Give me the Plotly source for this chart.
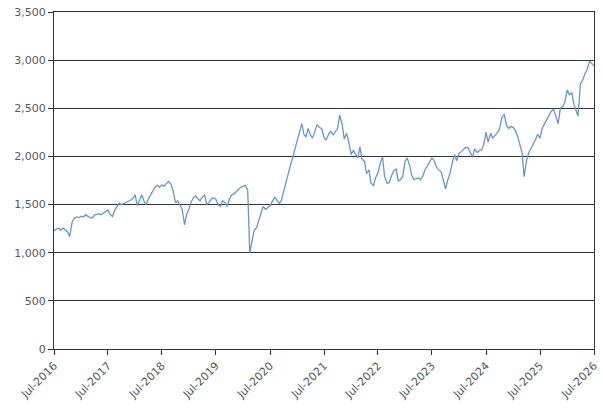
import pandas as pd
import plotly.graph_objects as go

# semi-monthly readings (1st and 15th of each month), Jul-2016 .. Jul-2026
dates = pd.date_range("2016-07-01", "2026-07-01", freq="SMS")

values = [
    # Jul-2016 .. Jun-2017
    1225, 1245, 1255, 1235, 1255, 1240, 1215, 1170, 1320, 1360, 1372, 1365,
    1380, 1372, 1395, 1378, 1370, 1358, 1390, 1400, 1405, 1395, 1415, 1425,
    # Jul-2017 .. Jun-2018
    1445, 1400, 1375, 1440, 1485, 1515, 1500, 1510, 1520, 1530, 1545, 1560,
    1600, 1490, 1560, 1600, 1540, 1500, 1560, 1600, 1655, 1680, 1700, 1680,
    # Jul-2018 .. Jun-2019
    1705, 1690, 1720, 1740, 1710, 1640, 1520, 1540, 1490, 1450, 1290, 1400,
    1460, 1530, 1575, 1590, 1560, 1540, 1580, 1600, 1500, 1520, 1560, 1570,
    # Jul-2019 .. Jun-2020
    1555, 1500, 1480, 1540, 1520, 1480, 1560, 1600, 1610, 1630, 1660, 1680,
    1690, 1700, 1650, 1000, 1120, 1230, 1260, 1330, 1400, 1480, 1450, 1470,
    # Jul-2020 .. Jun-2021
    1490, 1530, 1575, 1550, 1510, 1540, 1640, 1740, 1820, 1900, 1990, 2060,
    2140, 2230, 2340, 2230, 2200, 2290, 2220, 2190, 2270, 2330, 2300, 2290,
    # Jul-2021 .. Jun-2022
    2200, 2170, 2230, 2260, 2225, 2250, 2290, 2430, 2330, 2180, 2240, 2150,
    2020, 2060, 2020, 1985, 2100, 1970, 1950, 1820, 1860, 1720, 1700, 1780,
    # Jul-2022 .. Jun-2023
    1830, 1920, 1995, 1790, 1720, 1730, 1800, 1850, 1870, 1745, 1760, 1790,
    1950, 1985, 1900, 1800, 1760, 1770, 1775, 1760, 1800, 1860, 1910, 1950,
    # Jul-2023 .. Jun-2024
    1985, 1960, 1890, 1860, 1840, 1760, 1660, 1750, 1830, 1930, 2020, 1955,
    2030, 2050, 2070, 2095, 2090, 2045, 1990, 2080, 2040, 2060, 2070, 2120,
    # Jul-2024 .. Jun-2025
    2250, 2150, 2240, 2190, 2220, 2245, 2290, 2400, 2440, 2330, 2290, 2310,
    2300, 2270, 2200, 2120, 2040, 1790, 1960, 2035, 2080, 2120, 2175, 2230,
    # Jul-2025 .. Jul-2026
    2190, 2290, 2340, 2375, 2430, 2470, 2490, 2410, 2340, 2500, 2520, 2560,
    2690, 2640, 2660, 2540, 2470, 2420, 2760, 2790, 2860, 2900, 2990, 2970,
    2940,
]

tick_dates = pd.date_range("2016-07-01", "2026-07-01", freq="12MS")
tick_labels = [d.strftime("%b-%Y") for d in tick_dates]

fig = go.Figure()
fig.add_trace(go.Scatter(x=dates, y=values, mode="lines",
                         line=dict(color="#6398cc", width=1.3)))

fig.update_layout(
    width=603, height=409,
    margin=dict(l=54, r=9, t=12, b=60),
    plot_bgcolor="white", paper_bgcolor="white",
    showlegend=False,
    font=dict(family="DejaVu Sans", size=11, color="#595959"),
)
fig.update_xaxes(
    range=[tick_dates[0], tick_dates[-1]], automargin=False,
    tickvals=tick_dates, ticktext=tick_labels, tickangle=-45,
    showgrid=False, showline=True, linecolor="#333333", linewidth=1,
    mirror=True, ticks="outside", ticklen=5, tickcolor="#333333",
    zeroline=False,
)
fig.update_yaxes(
    range=[0, 3500], dtick=500, tickformat=",", automargin=False,
    showgrid=True, gridcolor="#333333", gridwidth=1,
    showline=True, linecolor="#333333", linewidth=1, mirror=True,
    ticks="outside", ticklen=5, tickcolor="#333333", zeroline=False,
)

# the page body has a default 8px margin; drop it so the figure sits at 0,0
fig.write_html("out.html", config={"displayModeBar": False},
               post_script="document.body.style.margin='0';")
